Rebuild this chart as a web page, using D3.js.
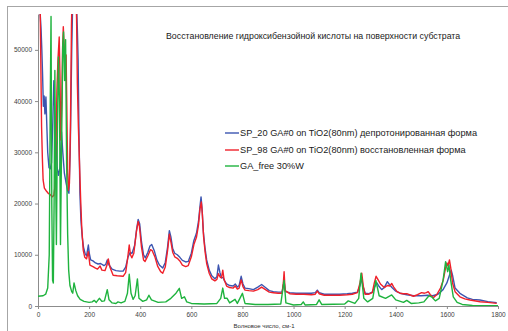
<!DOCTYPE html>
<html><head><meta charset="utf-8">
<script src="https://cdn.jsdelivr.net/npm/d3@7"></script>
<style>html,body{margin:0;padding:0;background:#fff;}svg{display:block;}</style>
</head><body>
<svg id="c" width="508" height="331"></svg>
<script>
const titleText = "Восстановление гидроксибензойной кислоты на поверхности субстрата";
const xAxisTitle = "Волновое число, см-1";
const xTicks = [0,200,400,600,800,1000,1200,1400,1600,1800];
const yTicks = [0,10000,20000,30000,40000,50000];
const seriesNames = ["SP_20  GA#0 on TiO2(80nm) депротонированная форма","SP_98  GA#0 on TiO2(80nm) восстановленная форма","GA_free 30%W"];
const seriesColors = ["#3c55b0","#f0202a","#1fb33e"];

const blueData = [[3,58000],[8,57500],[12,54000],[15,50000],[18,45000],[21,39000],[24,41000],[27,37500],[31,40800],[34,36000],[38,30000],[43,27000],[48,26800],[53,28000],[58,36000],[62,44000],[66,38000],[70,33000],[75,27000],[80,25500],[86,27000],[92,34000],[97,30000],[103,26000],[110,24000],[116,22500],[121,22000],[126,30000],[132,50000],[136,60000],[150,60000],[154,54000],[157,48000],[160,35000],[164,22000],[168,16800],[173,13500],[178,11500],[184,10300],[190,9800],[197,11900],[201,10200],[206,9000],[215,8800],[225,8400],[235,8200],[245,8300],[258,7900],[265,8100],[271,9000],[278,8000],[290,7200],[305,6900],[320,6800],[333,6800],[343,7600],[352,9500],[360,10400],[368,10300],[378,11800],[386,15000],[392,16900],[398,16000],[405,12500],[413,10000],[420,9400],[430,10500],[438,11700],[445,12000],[455,10800],[465,9000],[475,8000],[488,7400],[498,8500],[507,11500],[514,14700],[520,13500],[527,11200],[535,10300],[545,10000],[555,9500],[565,8900],[578,8600],[588,8700],[600,10300],[610,12800],[620,14200],[628,16500],[634,19500],[638,21300],[642,19000],[647,14500],[653,11500],[660,9000],[670,7000],[680,5900],[692,5300],[700,5700],[706,8000],[712,6500],[718,5500],[724,5600],[730,4900],[738,4300],[750,4000],[764,3900],[772,4300],[780,3700],[787,4000],[795,5800],[802,4300],[810,3500],[825,3400],[843,3200],[860,3700],[875,4200],[890,3600],[905,3000],[921,2800],[940,2700],[955,2700],[963,4800],[968,2800],[985,2600],[1010,2500],[1040,2500],[1070,2500],[1085,2600],[1093,3100],[1100,2600],[1120,2300],[1150,2300],[1180,2300],[1210,2400],[1230,2500],[1250,2700],[1260,4000],[1266,5500],[1272,3800],[1280,2500],[1295,2400],[1308,2700],[1318,3800],[1326,4500],[1335,3800],[1345,3200],[1355,3600],[1367,4750],[1375,4200],[1385,3600],[1400,2900],[1417,2500],[1443,2200],[1470,2000],[1500,2000],[1525,2100],[1545,2000],[1565,2300],[1585,3200],[1600,4500],[1610,6000],[1617,7000],[1623,5800],[1632,3500],[1651,2470],[1680,1600],[1700,1300],[1729,1170],[1760,850],[1795,650]];

const redData = [[3,62000],[8,60000],[10,52000],[12,43500],[14,35000],[17,29000],[20,24600],[25,23000],[32,22500],[40,22000],[47,21800],[55,21300],[62,21600],[66,23200],[70,30000],[74,42000],[78,48000],[83,52500],[86,45000],[89,32400],[93,40000],[96,50000],[99,54500],[103,50000],[106,45000],[110,49000],[113,38000],[116,26000],[119,22600],[123,24000],[127,35000],[131,55000],[134,62000],[148,62000],[151,56000],[154,43500],[158,35000],[162,28500],[167,20700],[171,15500],[177,10900],[183,9500],[190,9200],[197,10600],[203,8000],[215,7700],[225,7400],[233,7200],[243,7800],[250,7000],[262,6900],[270,8000],[275,9200],[282,7500],[294,6000],[310,5900],[333,5800],[343,6500],[350,9000],[357,11900],[362,10000],[367,9400],[375,10300],[385,14500],[392,16500],[397,15500],[405,11500],[413,9000],[419,8700],[430,9800],[440,11000],[447,10800],[458,9500],[468,7800],[480,6700],[488,6400],[498,7600],[507,10800],[514,14000],[520,12500],[527,10500],[535,9600],[545,9300],[555,8800],[565,8000],[578,7700],[588,7900],[600,9600],[610,12000],[620,13400],[628,15800],[634,19000],[639,20300],[643,18000],[648,13500],[654,10500],[660,8300],[670,6400],[680,5300],[692,4900],[700,5200],[706,6300],[712,5700],[718,5500],[723,7000],[728,5200],[738,3900],[750,3600],[764,3500],[772,3900],[780,3300],[787,3500],[795,5100],[802,3800],[810,3100],[825,3000],[843,2900],[860,3200],[875,3700],[890,3200],[905,2700],[921,2600],[940,2500],[955,2500],[960,4500],[963,6700],[967,3000],[985,2400],[1010,2300],[1040,2300],[1070,2200],[1085,2300],[1093,2900],[1100,2400],[1120,2100],[1150,2100],[1180,2100],[1210,2200],[1230,2300],[1250,2600],[1260,4500],[1267,6400],[1273,3800],[1280,2300],[1295,2300],[1308,2600],[1316,4500],[1323,5800],[1330,5200],[1340,4300],[1355,3600],[1367,4000],[1377,3900],[1384,4400],[1392,3700],[1405,2800],[1417,2500],[1430,2400],[1443,2400],[1469,1900],[1485,2200],[1501,2600],[1512,2500],[1520,2600],[1527,2800],[1535,2200],[1547,1600],[1560,2200],[1575,3500],[1586,5100],[1595,7500],[1600,8400],[1604,7800],[1610,9000],[1615,7500],[1622,4500],[1632,2800],[1651,1800],[1670,1400],[1690,1170],[1730,840],[1760,700],[1795,520]];

const greenData = [[0,1900],[20,2000],[30,2300],[38,3500],[44,10000],[48,40000],[51,56500],[54,20000],[57,5000],[60,4500],[63,20000],[66,46000],[68,30000],[72,12000],[76,35000],[80,48600],[84,40000],[88,12000],[92,30000],[97,51000],[100,53500],[104,44000],[108,52000],[112,28000],[116,14000],[120,7000],[125,4000],[132,2800],[136,2500],[141,4500],[148,3000],[155,2000],[165,1300],[180,900],[200,700],[212,800],[220,1100],[228,700],[240,1500],[250,900],[260,1000],[271,3200],[278,1200],[290,600],[305,500],[313,800],[325,600],[340,900],[350,2500],[357,6200],[364,2500],[372,1300],[380,2000],[389,5300],[395,1500],[410,900],[425,1200],[434,2100],[444,1200],[470,700],[500,800],[520,1500],[540,2500],[553,3450],[562,1500],[573,1800],[582,800],[600,500],[650,400],[700,500],[715,1500],[723,3500],[730,1500],[740,1500],[750,600],[771,1300],[780,500],[800,2470],[810,500],[850,300],[900,300],[950,400],[963,5000],[970,600],[1000,200],[1030,300],[1038,800],[1045,200],[1090,300],[1100,1200],[1110,300],[1200,400],[1214,1000],[1240,500],[1255,1500],[1264,6400],[1275,1500],[1290,800],[1310,1500],[1322,5000],[1335,2000],[1360,1500],[1384,2150],[1400,1200],[1430,700],[1443,1100],[1460,500],[1490,600],[1510,800],[1530,2000],[1540,1800],[1555,1000],[1570,1500],[1585,5000],[1595,8650],[1603,6700],[1608,8000],[1615,5000],[1625,1800],[1640,700],[1660,300],[1700,100],[1800,50]];

const svg = d3.select("#c");
const L = 38, R = 498, T = 14, B = 306;
const x = d3.scaleLinear().domain([0,1800]).range([L,R]);
const y = d3.scaleLinear().domain([0,57000]).range([B,T]);
const FONT = "Liberation Sans, Arial, sans-serif";

svg.append("rect").attr("x",7.5).attr("y",6.5).attr("width",560).attr("height",400)
  .attr("fill","#fff").attr("stroke","#a6a6a6").attr("stroke-width",1);

svg.append("clipPath").attr("id","pc").append("rect").attr("x",L).attr("y",T).attr("width",R-L+2).attr("height",B-T);

const xa = svg.append("g").attr("transform",`translate(0,${B})`)
  .call(d3.axisBottom(x).tickValues(xTicks).tickSize(3).tickSizeOuter(0).tickFormat(d3.format("d")));
const ya = svg.append("g").attr("transform",`translate(${L},0)`)
  .call(d3.axisLeft(y).tickValues(yTicks).tickSize(3).tickSizeOuter(0).tickFormat(d3.format("d")));
[xa,ya].forEach(a=>{
  a.select(".domain").attr("stroke","#8c8c8c");
  a.selectAll(".tick line").attr("stroke","#8c8c8c");
  a.selectAll("text").attr("fill","#404040").attr("font-family",FONT).attr("font-size",6.5);
});
xa.selectAll("text").attr("dy","0.71em").attr("y",6);
ya.selectAll("text").attr("x",-6);

const line = d3.line().x(d=>x(d[0])).y(d=>y(d[1]));
const plot = svg.append("g").attr("clip-path","url(#pc)");
[blueData, redData, greenData].forEach((data,i)=>{
  plot.append("path").datum(data).attr("d",line).attr("fill","none")
    .attr("stroke",seriesColors[i]).attr("stroke-width",1.4).attr("stroke-linejoin","round");
});

svg.append("text").attr("x",166).attr("y",39).attr("font-family",FONT)
  .attr("font-size",8.8).attr("fill","#1a1a1a").text(titleText);

svg.append("text").attr("x",264).attr("y",328).attr("text-anchor","middle")
  .attr("font-family",FONT).attr("font-size",6).attr("fill","#303030").text(xAxisTitle);

const legY = [133,150,166];
seriesNames.forEach((n,i)=>{
  svg.append("line").attr("x1",225).attr("x2",239).attr("y1",legY[i]).attr("y2",legY[i])
    .attr("stroke",seriesColors[i]).attr("stroke-width",1.4);
  svg.append("text").attr("x",240).attr("y",legY[i]+3.2).attr("font-family",FONT)
    .attr("font-size",9.2).attr("fill","#1a1a1a").text(n);
});
</script>
</body></html>
